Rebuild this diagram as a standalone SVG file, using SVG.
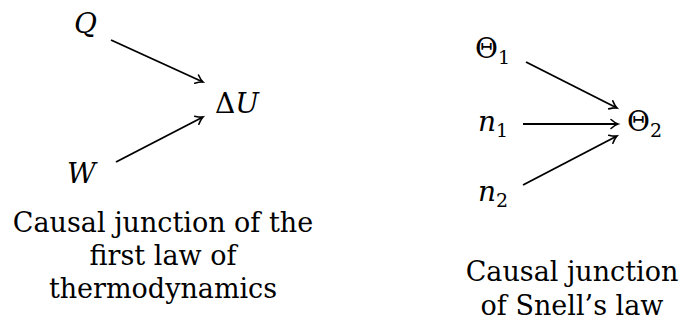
<svg xmlns="http://www.w3.org/2000/svg" width="680" height="324" viewBox="0 0 680 324">
<style>
text{font-family:"DejaVu Serif","Liberation Serif",serif;fill:#000}
.m{font-size:28px;font-style:italic}
.r{font-size:28px}
.s{font-size:19px;font-style:normal}
.c{font-size:27px;text-anchor:middle}
.e{stroke:#000;stroke-width:1.9;fill:none}
</style>
<defs>
<marker id="a" markerWidth="12" markerHeight="12" refX="9" refY="6" orient="auto" markerUnits="userSpaceOnUse">
<path d="M2,1.5 Q6,5 9,6 Q6,7 2,10.5" fill="none" stroke="#000" stroke-width="1.6" stroke-linecap="round"/>
</marker>
</defs>
<g id="Q"><text class="m" x="74" y="33">Q</text></g>
<g id="dU"><text class="r" x="215" y="113">Δ<tspan font-style="italic">U</tspan></text></g>
<g id="W"><text class="m" x="67" y="183">W</text></g>
<g id="T1"><text class="r" x="475" y="58">Θ<tspan class="s" dy="6">1</tspan></text></g>
<g id="n1"><text class="m" x="478" y="131">n<tspan class="s" dy="6">1</tspan></text></g>
<g id="n2"><text class="m" x="478" y="201">n<tspan class="s" dy="6">2</tspan></text></g>
<g id="T2"><text class="r" x="627" y="131">Θ<tspan class="s" dy="6">2</tspan></text></g>
<g id="edges">
<line class="e" x1="111" y1="40" x2="203" y2="82" marker-end="url(#a)"/>
<line class="e" x1="116" y1="162" x2="203" y2="117" marker-end="url(#a)"/>
<line class="e" x1="526" y1="62" x2="617" y2="108" marker-end="url(#a)"/>
<line class="e" x1="523" y1="124" x2="618" y2="124" marker-end="url(#a)"/>
<line class="e" x1="523" y1="185" x2="617" y2="136" marker-end="url(#a)"/>
</g>
<g id="cap1">
<text class="c" x="163" y="232">Causal junction of the</text>
<text class="c" x="163" y="265">first law of</text>
<text class="c" x="163" y="298">thermodynamics</text>
</g>
<g id="cap2">
<text class="c" x="572" y="281">Causal junction</text>
<text class="c" x="572" y="315">of Snell’s law</text>
</g>
</svg>
